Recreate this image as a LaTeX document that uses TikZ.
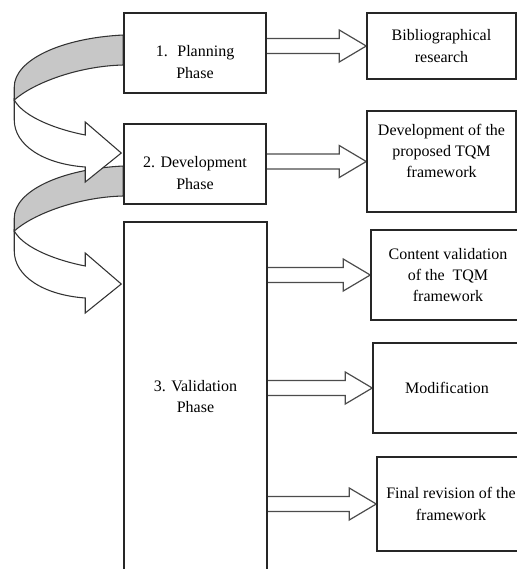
\documentclass[tikz,border=0pt]{standalone}
\usepackage{fontspec}
\setmainfont{Liberation Serif}
\usetikzlibrary{calc,backgrounds}
\tikzset{
  phase/.style={draw=black!85, line width=1.1pt, fill=white, minimum width=106.5pt,
                minimum height=60pt, align=center, font=\fontsize{12}{16}\selectfont},
  task/.style={draw=black!85, line width=1.1pt, fill=white, minimum width=111.75pt,
               minimum height=67.5pt, align=center, font=\fontsize{12}{16}\selectfont},
  fatarrow/.style={draw=black!70, line width=0.9pt, fill=white, line join=miter},
  twistback/.style={draw=black!80, line width=0.8pt, fill=black!22},
  twistfront/.style={draw=black!80, line width=0.8pt, fill=white}
}
\newcommand{\blockarrow}[2]{%
  \draw[fatarrow] ($(#1.east|-#2.west)+(0,-7.5)$) -- ($(#2.west)+(-27,-7.5)$)
    -- ($(#2.west)+(-27,-16)$) -- (#2.west) -- ($(#2.west)+(-27,16)$)
    -- ($(#2.west)+(-27,7.5)$) -- ($(#1.east|-#2.west)+(0,7.5)$);}
\newcommand{\twistarrow}{%
  \draw[twistback] (0,-18) .. controls (-62,-15) and (-109,7) .. (-109,34)
    -- (-109,47) .. controls (-90,30) and (-45,13) .. (0,12) -- cycle;
  \draw[twistfront] (-109,47) .. controls (-99,65) and (-64,77) .. (-38,82)
    -- (-38,69) -- (-2,100) -- (-38,129) -- (-38,114)
    .. controls (-80,111) and (-109,92) .. (-109,67) -- cycle;}
\newcommand{\lowstrut}{\rule{0pt}{22pt}}

\begin{document}
\begin{tikzpicture}[x=0.75pt,y=-0.75pt]
  \useasboundingbox (0,0) rectangle (517,569);
  \node[phase] (p1) at (195,53) {\lowstrut 1.\hspace{0.6em}Planning\\Phase};
  \node[phase] (p2) at (195,164) {\lowstrut 2. Development\\Phase};
  \node[phase, minimum width=107.25pt, minimum height=261.75pt] (p3) at (195.5,396.5)
    {3. Validation\\Phase};
  \node[task, minimum height=49.5pt] (r1) at (441.5,46) {Bibliographical\\research};
  \node[task, minimum height=75.75pt] (r2) at (441.5,161.5)
    {Development of the\\proposed TQM\\framework\\\mbox{}};
  \node[task, minimum width=115.5pt] (r3) at (448,275)
    {Content validation\\of the\ \ TQM\\framework};
  \node[task, minimum width=111pt] (r4) at (447,388) {Modification};
  \node[task, minimum width=111pt, minimum height=70.5pt] (r5) at (451,504)
    {Final revision of the\\framework};
  \begin{scope}[on background layer]
    \begin{scope}[shift={($(p2.west)+(0,20)$)}]
      \twistarrow
    \end{scope}
    \begin{scope}[shift={(p1.west)}]
      \twistarrow
    \end{scope}
    \blockarrow{p1}{r1}
    \blockarrow{p2}{r2}
    \blockarrow{p3}{r3}
    \blockarrow{p3}{r4}
    \blockarrow{p3}{r5}
  \end{scope}
\end{tikzpicture}
\end{document}
